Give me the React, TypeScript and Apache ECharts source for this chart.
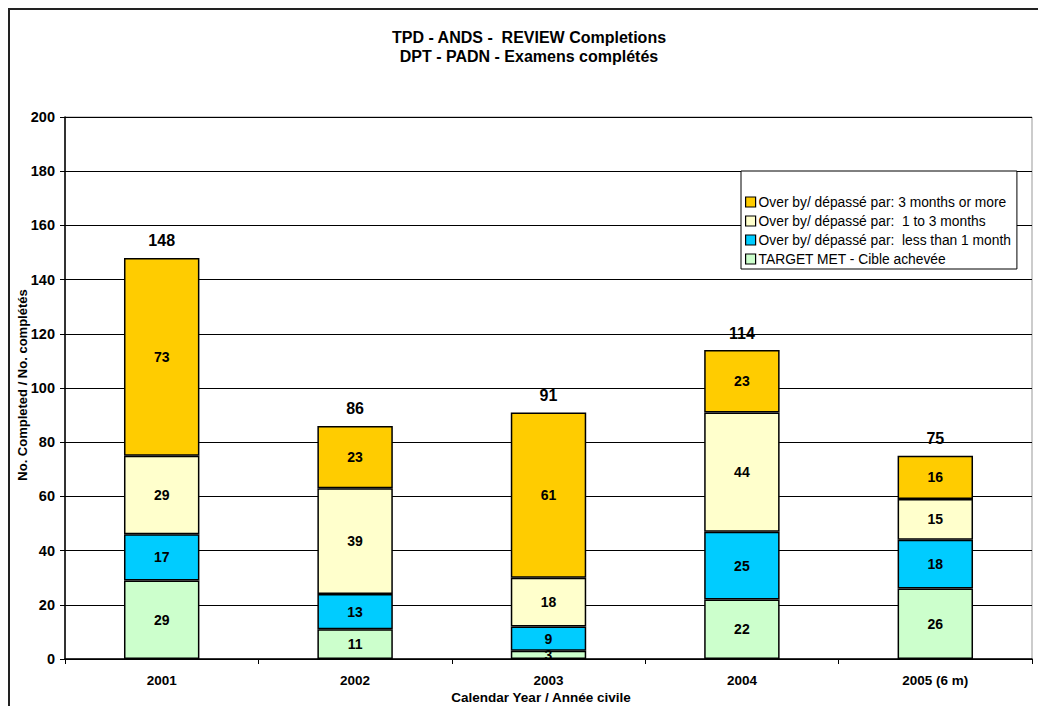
import React, { useEffect, useRef } from "react";
import * as echarts from "echarts";

const categories = ["2001", "2002", "2003", "2004", "2005 (6 m)"];
const targetMet = [29, 11, 3, 22, 26];
const lessThan1 = [17, 13, 9, 25, 18];
const oneTo3 = [29, 39, 18, 44, 15];
const threePlus = [73, 23, 61, 23, 16];
const totals = [148, 86, 91, 114, 75];
const seriesNames = [
  "TARGET MET - Cible achevée",
  "Over by/ dépassé par:  less than 1 month",
  "Over by/ dépassé par:  1 to 3 months",
  "Over by/ dépassé par: 3 months or more",
];
const seriesColors = ["#CCFFCC", "#00CCFF", "#FFFFCC", "#FFCC00"];
const titleLines = ["TPD - ANDS -  REVIEW Completions", "DPT - PADN - Examens complétés"];

const FONT = "'Liberation Sans', Arial, sans-serif";

export default function App() {
  const ref = useRef<HTMLDivElement>(null);
  useEffect(() => {
    if (!ref.current) return;
    const chart = echarts.init(ref.current, null, { renderer: "svg" });
    const values = [targetMet, lessThan1, oneTo3, threePlus];
    const barSeries = values.map((d, i) => ({
      name: seriesNames[i],
      type: "bar",
      stack: "total",
      barWidth: "39%",
      data: d,
      itemStyle: { color: seriesColors[i], borderColor: "#000", borderWidth: 1.5 },
      label: {
        show: true,
        position: "inside",
        fontFamily: FONT,
        fontWeight: "bold",
        fontSize: 14,
        color: "#000",
      },
    }));
    const textStyleBase = {
      fontFamily: FONT,
      fontWeight: "bold",
      fill: "#000",
      textAlign: "center",
      textVerticalAlign: "middle",
    };
    chart.setOption({
      animation: false,
      textStyle: { fontFamily: FONT },
      graphic: [
        {
          type: "rect",
          silent: true,
          shape: { x: 1, y: 1, width: 3000, height: 3000 },
          style: { fill: "none", stroke: "#222", lineWidth: 2 },
          z: -10,
        },
        { type: "text", x: 521, y: 29, style: { ...textStyleBase, text: titleLines[0], fontSize: 16 } },
        { type: "text", x: 521, y: 48, style: { ...textStyleBase, text: titleLines[1], fontSize: 16 } },
        {
          type: "text",
          x: 533,
          y: 689,
          style: { ...textStyleBase, text: "Calendar Year / Année civile", fontSize: 13.5 },
        },
        {
          type: "text",
          x: 14,
          y: 377,
          rotation: Math.PI / 2,
          style: { ...textStyleBase, text: "No. Completed / No. complétés", fontSize: 13 },
        },
      ],
      legend: {
        orient: "vertical",
        left: 733,
        top: 163,
        data: [seriesNames[3], seriesNames[2], seriesNames[1], seriesNames[0]],
        backgroundColor: "#fff",
        borderColor: "#000",
        borderWidth: 1,
        padding: [24, 6, 3, 4],
        itemGap: 5,
        itemWidth: 10,
        itemHeight: 10,
        icon: "rect",
        itemStyle: { borderColor: "#000", borderWidth: 1.2 },
        textStyle: { fontFamily: FONT, fontSize: 13.8, color: "#000", padding: [0, 0, 0, -2] },
        z: 10,
      },
      grid: { left: 57, top: 109, right: 6, bottom: 47, show: true, borderColor: "#999", borderWidth: 1 },
      xAxis: {
        type: "category",
        data: categories,
        axisLine: { lineStyle: { color: "#000", width: 1.5 } },
        axisTick: { show: true, length: 5, lineStyle: { color: "#000" } },
        axisLabel: { fontFamily: FONT, fontWeight: "bold", fontSize: 13.5, color: "#000", margin: 14 },
      },
      yAxis: {
        type: "value",
        min: 0,
        max: 200,
        interval: 20,
        axisLine: { show: true, lineStyle: { color: "#000", width: 1.5 } },
        axisTick: { show: true, length: 5, inside: false, lineStyle: { color: "#000" } },
        axisLabel: { fontFamily: FONT, fontWeight: "bold", fontSize: 14.5, color: "#000", margin: 10 },
        splitLine: { show: true, lineStyle: { color: "#000", width: 1 } },
      },
      series: [
        ...barSeries,
        {
          name: "total",
          type: "line",
          data: totals,
          symbol: "circle",
          symbolSize: 2,
          showSymbol: true,
          itemStyle: { color: "transparent", borderWidth: 0 },
          lineStyle: { width: 0, color: "transparent" },
          label: {
            show: true,
            position: "top",
            distance: 8,
            fontFamily: FONT,
            fontWeight: "bold",
            fontSize: 16,
            color: "#000",
          },
          z: 5,
        },
      ],
    });
    return () => chart.dispose();
  }, []);
  return (
    <div
      ref={ref}
      style={{ position: "fixed", left: 8, top: 8, width: 1030, height: 698, background: "#fff" }}
    />
  );
}
